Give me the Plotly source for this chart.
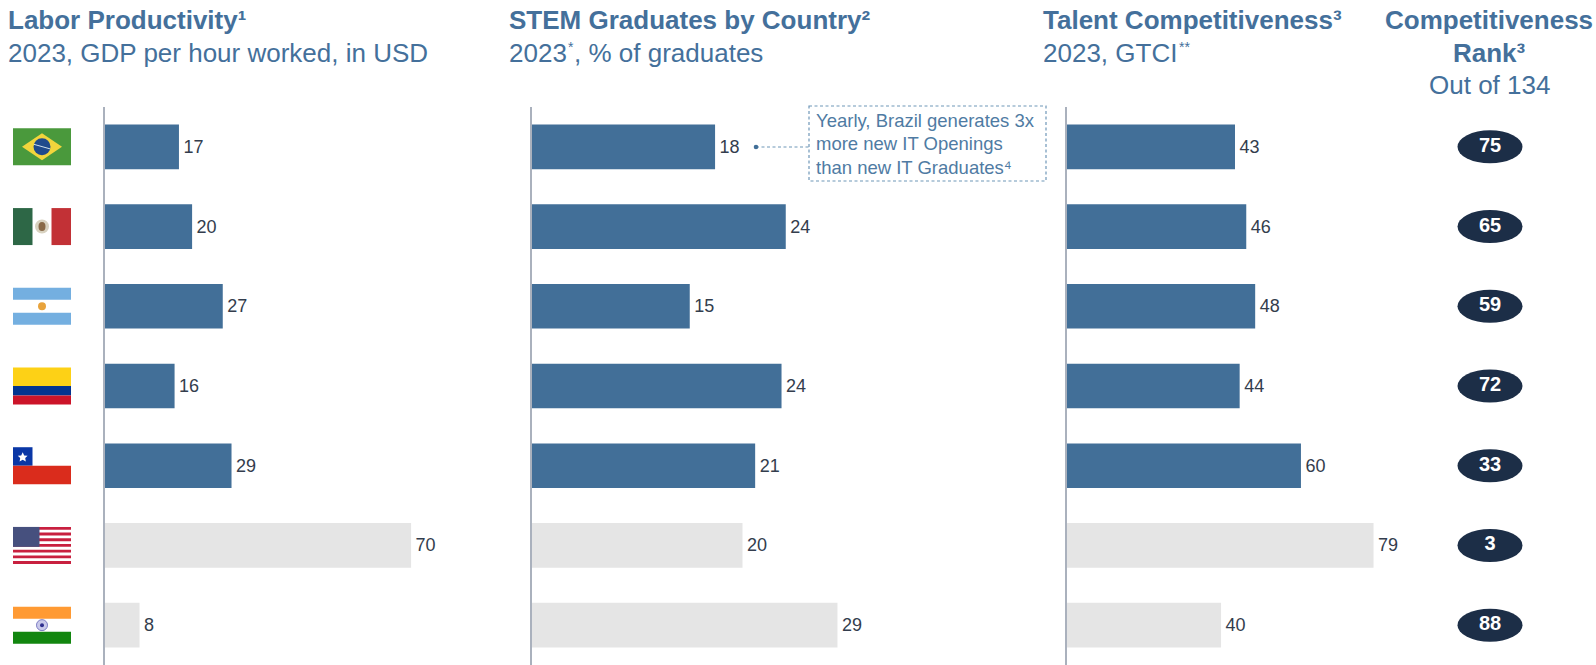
import plotly.graph_objects as go

W, H = 1596, 665
countries = ["Brazil", "Mexico", "Argentina", "Colombia", "Chile", "USA", "India"]
labor_productivity = [17, 20, 27, 16, 29, 70, 8]
labor_lengths = [17, 20, 27, 16, 29, 70, 8]
stem_graduates = [18, 24, 15, 24, 21, 20, 29]
stem_lengths = [17.4, 24.1, 15.0, 23.7, 21.2, 20.0, 29.0]
talent_index = [43, 46, 48, 44, 60, 79, 40]
talent_lengths = [43.3, 46.2, 48.5, 44.5, 60.3, 79.0, 39.7]
competitiveness_rank = [75, 65, 59, 72, 33, 3, 88]

BLUE = "#426f98"
GREY = "#e5e5e5"
TITLE = "#44709b"
LABEL = "#333d4d"
AXIS = "#aab1bd"
NAVY = "#1c2e47"
bar_colors = [BLUE] * 5 + [GREY] * 2

TOP, BOTTOM = 107, 665
STEP = (BOTTOM - TOP) / 7


def px(x):
    return x / W


def py(y):
    return 1 - y / H


fig = go.Figure()
panels = [
    ("x", "y", labor_lengths, labor_productivity, 104.5, 4.38, 75),
    ("x2", "y2", stem_lengths, stem_graduates, 531.5, 10.55, 30),
    ("x3", "y3", talent_lengths, talent_index, 1067, 3.88, 85),
]
for xa, ya, lengths, labels, x0, scale, rng in panels:
    fig.add_trace(go.Bar(
        x=lengths, y=countries, orientation="h", xaxis=xa, yaxis=ya,
        marker=dict(color=bar_colors, line=dict(width=0)),
        text=["\u200a" + str(v) for v in labels], textposition="outside", cliponaxis=False,
        textfont=dict(family="Liberation Sans", size=18, color=LABEL),
        showlegend=False, hoverinfo="skip", width=0.56,
    ))
    suffix = xa[1:]
    fig.update_layout({
        f"xaxis{suffix}": dict(domain=[px(x0), px(x0 + rng * scale)], range=[0, rng], visible=False, fixedrange=True),
        f"yaxis{suffix}": dict(domain=[0, py(TOP)], range=[6.5, -0.5], anchor=xa,
                               showticklabels=False, ticks="", showgrid=False, zeroline=False,
                               showline=True, linecolor=AXIS, linewidth=2, fixedrange=True),
    })

# Rank column
fig.add_trace(go.Scatter(
    x=[0] * 7, y=countries, xaxis="x4", yaxis="y4", mode="text",
    text=[str(v) for v in competitiveness_rank], textposition="middle center",
    textfont=dict(family="Liberation Sans", size=20, color="white", weight="bold"),
    showlegend=False, hoverinfo="skip",
))
fig.update_layout(
    xaxis4=dict(domain=[px(1440), px(1540)], range=[-1, 1], visible=False),
    yaxis4=dict(domain=[0, py(TOP)], range=[6.5, -0.5], type="category", anchor="x4", visible=False),
)

shapes = []


def rect(x0, y0, x1, y1, color, layer="above"):
    shapes.append(dict(type="rect", xref="paper", yref="paper", x0=px(x0), x1=px(x1),
                       y0=py(y0), y1=py(y1), fillcolor=color, line=dict(width=0), layer=layer))


def ell(cx, cy, rx, ry, color, layer="below"):
    shapes.append(dict(type="circle", xref="paper", yref="paper", x0=px(cx - rx), x1=px(cx + rx),
                       y0=py(cy - ry), y1=py(cy + ry), fillcolor=color, line=dict(width=0), layer=layer))


for i in range(7):
    ell(1490, TOP + STEP * (i + .5), 32.5, 16.5, NAVY)

FL, FR = 13, 71
FH = 37
cy = [TOP + STEP * (i + .5) for i in range(7)]
top = [c - FH / 2 for c in cy]

# Brazil
t = top[0]
rect(FL, t, FR, t + FH, "#4a993c")
shapes.append(dict(type="path", xref="paper", yref="paper",
                   path=f"M {px(22)} {py(cy[0])} L {px(42)} {py(t + 5)} L {px(62)} {py(cy[0])} L {px(42)} {py(t + FH - 5)} Z",
                   fillcolor="#f2d53c", line=dict(width=0)))
ell(42, cy[0], 8.5, 8.5, "#1f4a8c", "above")
shapes.append(dict(type="line", xref="paper", yref="paper", x0=px(34), x1=px(50), y0=py(cy[0] - 2.5), y1=py(cy[0] + 2),
                   line=dict(color="#cfe0ea", width=1)))
# Mexico
t = top[1]
rect(FL, t, FL + 19.5, t + FH, "#2d6746")
rect(FR - 19.5, t, FR, t + FH, "#c23136")
ell(42, cy[1], 7, 7, "#d8d2c0", "above")
ell(42, cy[1], 3.5, 4.5, "#8a6a48", "above")
# Argentina
t = top[2]
rect(FL, t, FR, t + 12, "#74afe0")
rect(FL, t + 25, FR, t + FH, "#74afe0")
ell(42, cy[2], 4, 4, "#e8a33c", "above")
# Colombia
t = top[3]
rect(FL, t, FR, t + 18.5, "#fdd116")
rect(FL, t + 18.5, FR, t + 28, "#03348f")
rect(FL, t + 28, FR, t + FH, "#cc1429")
# Chile
t = top[4]
rect(FL, t, FL + 19.5, t + 18.5, "#0a37a6")
rect(FL, t + 18.5, FR, t + FH, "#da2c1c")
shapes.append(dict(type="path", xref="paper", yref="paper",
                   path=(f"M {px(22.7)} {py(t + 5)} L {px(24.2)} {py(t + 8.2)} L {px(27.6)} {py(t + 8.6)} "
                         f"L {px(25.2)} {py(t + 10.8)} L {px(25.8)} {py(t + 14.2)} L {px(22.7)} {py(t + 12.5)} "
                         f"L {px(19.6)} {py(t + 14.2)} L {px(20.2)} {py(t + 10.8)} L {px(17.8)} {py(t + 8.6)} "
                         f"L {px(21.2)} {py(t + 8.2)} Z"),
                   fillcolor="white", line=dict(width=0)))
# USA
t = top[5]
band = FH / 13
for s in range(0, 13, 2):
    rect(FL, t + s * band, FR, t + (s + 1) * band, "#c8203f")
rect(FL, t, FL + 26.5, t + 7 * band, "#46507e")
# India
t = top[6]
rect(FL, t, FR, t + 12, "#ff9a33")
rect(FL, t + 25, FR, t + FH, "#12860f")
shapes.append(dict(type="circle", xref="paper", yref="paper", x0=px(36.5), x1=px(47.5),
                   y0=py(cy[6] - 5.5), y1=py(cy[6] + 5.5), fillcolor="#c9c9ea",
                   line=dict(color="#7d7dc4", width=1)))
ell(42, cy[6], 2, 2, "#2f2f8f", "above")

# Callout
DASH = "3px,2.5px"
shapes.append(dict(type="rect", xref="paper", yref="paper", x0=px(809), x1=px(1046), y0=py(106), y1=py(181),
                   fillcolor="rgba(0,0,0,0)", line=dict(color="#6f97b8", width=1.2, dash=DASH)))
shapes.append(dict(type="line", xref="paper", yref="paper", x0=px(756), x1=px(809), y0=py(147), y1=py(147),
                   line=dict(color="#6f97b8", width=1.2, dash=DASH)))
ell(756, 147, 2.3, 2.3, "#426f98", "above")
fig.update_layout(shapes=shapes)


def note(text, x, y, size, bold=False, anchor="left", color=TITLE):
    fig.add_annotation(text=f"<b>{text}</b>" if bold else text, x=px(x), y=py(y), xref="paper", yref="paper",
                       xanchor=anchor, yanchor="middle", showarrow=False, align=anchor,
                       font=dict(family="Liberation Sans", size=size, color=color))


TS = 26
note("Labor Productivity¹", 6, 20, TS, True)
note("2023, GDP per hour worked, in USD", 6, 53, TS)
note("STEM Graduates by Country²", 507, 20, TS, True)
note("2023", 507, 53, TS)
note("*", 566, 47, 14)
note(", % of graduates", 572, 53, TS)
note("Talent Competitiveness³", 1041, 20, TS, True)
note("2023, GTCI", 1041, 53, TS)
note("**", 1177, 47, 14)
note("Competitiveness", 1489, 20, TS, True, "center")
note("Rank³", 1489, 53, TS, True, "center")
note("Out of 134", 1489, 85.5, TS, False, "center")
note("Yearly, Brazil generates 3x", 813.5, 121, 18.5, color="#4f7ba3")
note("more new IT Openings", 813.5, 144, 18.5, color="#4f7ba3")
note("than new IT Graduates⁴", 813.5, 167, 18.5, color="#4f7ba3")

fig.update_layout(width=W, height=H, margin=dict(l=0, r=0, t=0, b=0), paper_bgcolor="white",
                  plot_bgcolor="white", showlegend=False, bargap=0.44)
fig.write_html("out.html", config={"displayModeBar": False},
               post_script="document.body.style.margin='0';document.body.style.overflow='hidden';")
